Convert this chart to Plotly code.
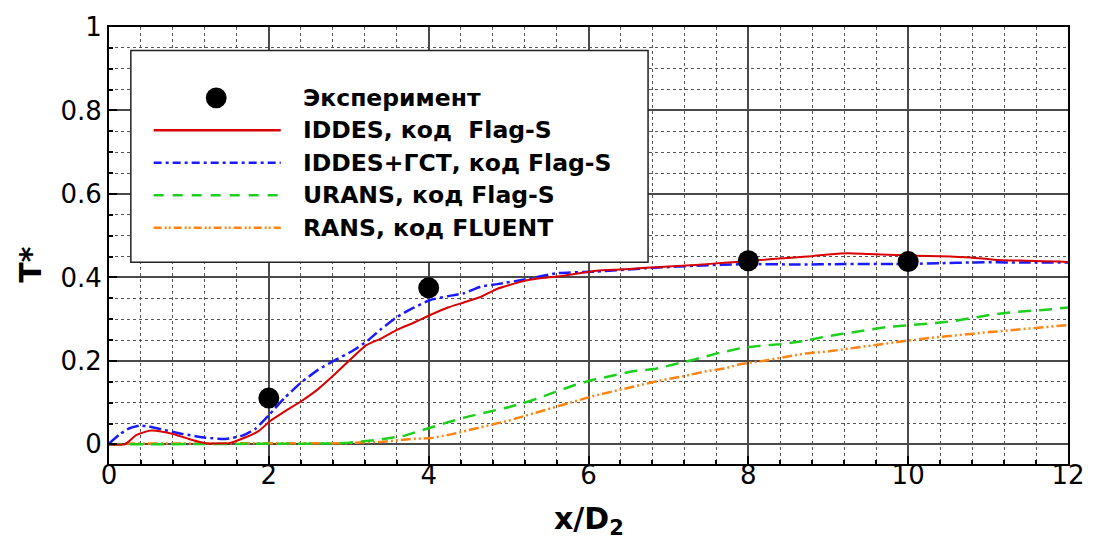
import plotly.graph_objects as go

# Experimental points
x_exp = [2, 4, 8, 10]
t_exp = [0.111, 0.375, 0.440, 0.438]

# IDDES, Flag-S
x_iddes = [0, 0.2, 0.34, 0.45, 0.53, 0.65, 0.8, 1.0, 1.21, 1.5, 1.71, 1.88, 2.01, 2.2, 2.41,
           2.62, 2.78, 2.99, 3.22, 3.41, 3.61, 3.82, 4.02, 4.24, 4.44, 4.65, 4.86, 5.05, 5.23,
           5.45, 5.69, 6.1, 6.4, 6.72, 7.0, 7.34, 7.7, 8.0, 8.3, 8.58, 8.8, 9.0, 9.25, 9.5,
           9.83, 10.1, 10.4, 10.78, 11.1, 11.48, 11.9, 12]
t_iddes = [0, 0, 0.022, 0.03, 0.033, 0.031, 0.025, 0.013, 0.003, 0.003, 0.017, 0.033, 0.055,
           0.079, 0.104, 0.133, 0.16, 0.198, 0.238, 0.254, 0.275, 0.292, 0.31, 0.328, 0.34,
           0.353, 0.373, 0.384, 0.393, 0.399, 0.404, 0.416, 0.419, 0.423, 0.426, 0.43, 0.435,
           0.439, 0.444, 0.448, 0.451, 0.455, 0.458, 0.456, 0.454, 0.452, 0.451, 0.448, 0.442,
           0.44, 0.438, 0.437]

# IDDES + synthetic turbulence generator, Flag-S
x_gst = [0, 0.14, 0.25, 0.39, 0.5, 0.63, 0.92, 1.21, 1.46, 1.67, 1.83, 2.01, 2.2, 2.41, 2.62,
         2.83, 3.03, 3.24, 3.41, 3.61, 3.82, 4.02, 4.24, 4.44, 4.65, 4.86, 5.23, 5.6, 6.1,
         6.72, 7.34, 8.0, 8.6, 9.2, 9.83, 10.4, 10.82, 11.4, 12]
t_gst = [0.002, 0.025, 0.038, 0.045, 0.043, 0.037, 0.025, 0.016, 0.013, 0.021, 0.037, 0.072,
         0.112, 0.149, 0.179, 0.202, 0.222, 0.249, 0.277, 0.306, 0.328, 0.346, 0.355, 0.362,
         0.378, 0.384, 0.396, 0.41, 0.414, 0.422, 0.428, 0.432, 0.431, 0.432, 0.432, 0.434,
         0.436, 0.436, 0.436]

# URANS, Flag-S
x_urans = [0, 2.8, 3.0, 3.2, 3.41, 3.7, 3.99, 4.24, 4.48, 4.77, 5.02, 5.27, 5.54, 5.81, 6.06,
           6.31, 6.55, 6.84, 7.09, 7.34, 7.61, 7.89, 8.14, 8.39, 8.68, 8.93, 9.18, 9.47, 9.73,
           9.98, 10.23, 10.52, 10.77, 11.02, 11.27, 11.57, 11.81, 12]
t_urans = [0.0, 0.002, 0.004, 0.008, 0.012, 0.021, 0.039, 0.053, 0.066, 0.079, 0.09, 0.104,
           0.123, 0.141, 0.155, 0.165, 0.175, 0.181, 0.192, 0.204, 0.218, 0.23, 0.236, 0.24,
           0.247, 0.257, 0.265, 0.273, 0.281, 0.285, 0.289, 0.294, 0.302, 0.31, 0.316, 0.32,
           0.324, 0.328]

# RANS, FLUENT
x_rans = [0.2, 1.0, 2.0, 3.0, 3.2, 3.41, 3.78, 4.03, 4.28, 4.57, 4.82, 5.02, 5.27, 5.56, 5.85,
          6.06, 6.35, 6.64, 6.89, 7.18, 7.47, 7.71, 7.89, 8.18, 8.43, 8.72, 9.01, 9.31, 9.6,
          9.93, 10.27, 10.52, 10.81, 11.02, 11.27, 11.57, 11.82, 12]
t_rans = [0.002, 0.002, 0.002, 0.003, 0.005, 0.006, 0.013, 0.015, 0.024, 0.037, 0.049, 0.058,
          0.072, 0.088, 0.104, 0.116, 0.129, 0.141, 0.153, 0.163, 0.175, 0.182, 0.192, 0.2,
          0.208, 0.218, 0.223, 0.231, 0.239, 0.247, 0.255, 0.259, 0.265, 0.269, 0.273, 0.278,
          0.283, 0.286]

legend_labels = ["Эксперимент", "IDDES, код\u00a0 Flag-S", "IDDES+ГСТ, код Flag-S",
                 "URANS, код Flag-S", "RANS, код FLUENT"]

RED = "#d80000"
BLUE = "#1a1aff"
GREEN = "#1ecf1e"
ORANGE = "#ff8412"
DASH_BLUE = "12px,4px,3px,4px"
DASH_GREEN = "13px,8px"
DASH_ORANGE = "10px,3px,2px,3px,2px,3px"

fig = go.Figure()
fig.add_trace(go.Scatter(x=x_rans, y=t_rans, mode="lines",
                         line=dict(color=ORANGE, width=2.5, dash=DASH_ORANGE)))
fig.add_trace(go.Scatter(x=x_urans, y=t_urans, mode="lines",
                         line=dict(color=GREEN, width=2.5, dash=DASH_GREEN)))
fig.add_trace(go.Scatter(x=x_gst, y=t_gst, mode="lines", line_shape="spline",
                         line=dict(color=BLUE, width=2.5, dash=DASH_BLUE, smoothing=0.5)))
fig.add_trace(go.Scatter(x=x_iddes, y=t_iddes, mode="lines", line_shape="spline",
                         line=dict(color=RED, width=2, smoothing=0.5)))
fig.add_trace(go.Scatter(x=x_exp, y=t_exp, mode="markers",
                         marker=dict(color="black", size=21, symbol="circle")))

# plot-area geometry in pixels
W_FIG, H_FIG = 1097, 544
L, R, T, B = 109, 1075, 20, 464
PW, PH = R - L, B - T


def px(v):
    return (v - L) / PW


def py(v):
    return (B - v) / PH


shapes = []
# legend frame
shapes.append(dict(type="rect", xref="paper", yref="paper", x0=px(131), x1=px(652),
                   y0=py(259), y1=py(44), fillcolor="white",
                   line=dict(color="#222", width=1.5), layer="above"))
rows = [92, 125, 158, 191, 224]
# marker sample
r = 10.5
shapes.append(dict(type="circle", xref="paper", yref="paper", x0=px(217 - r), x1=px(217 + r),
                   y0=py(rows[0] + r), y1=py(rows[0] - r), fillcolor="black",
                   line=dict(color="black", width=0), layer="above"))
samples = [(RED, 2.5, "solid"), (BLUE, 2.5, "8px,4px,3px,4px"), (GREEN, 2.5, "10px,9px"),
           (ORANGE, 2.5, "8px,3px,2px,2px,2px,3px")]
for (col, w, d), yy in zip(samples, rows[1:]):
    shapes.append(dict(type="line", xref="paper", yref="paper", x0=px(154), x1=px(282),
                       y0=py(yy), y1=py(yy), line=dict(color=col, width=w, dash=d),
                       layer="above"))

annotations = []
for lab, yy in zip(legend_labels, rows):
    annotations.append(dict(xref="paper", yref="paper", x=px(302), y=py(yy), text="<b>" + lab + "</b>",
                            showarrow=False, xanchor="left", yanchor="middle",
                            font=dict(family="DejaVu Sans", size=23.5, color="black")))
# axis titles
annotations.append(dict(xref="paper", yref="paper", x=px(30), y=py(262), text="<b>T*</b>",
                        textangle=-90, showarrow=False, xanchor="center", yanchor="middle",
                        font=dict(family="DejaVu Sans", size=30, color="black")))
annotations.append(dict(xref="paper", yref="paper", x=px(592), y=py(521),
                        text="<b>x/D<sub>2</sub></b>", showarrow=False,
                        xanchor="center", yanchor="middle",
                        font=dict(family="DejaVu Sans", size=30, color="black")))

axis_common = dict(showline=True, mirror=True, linecolor="black", linewidth=2,
                   ticks="inside", tickcolor="black", tickwidth=1.5, ticklen=8,
                   showgrid=True, gridcolor="#4a4a4a", gridwidth=1.5, zeroline=False,
                   tickfont=dict(family="DejaVu Sans", size=26, color="black"))

fig.update_layout(
    width=W_FIG, height=H_FIG,
    margin=dict(l=L, r=W_FIG - R, t=T, b=H_FIG - B, pad=0),
    paper_bgcolor="white", plot_bgcolor="white",
    showlegend=False,
    shapes=shapes, annotations=annotations,
    xaxis=dict(range=[0, 12], tickvals=[0, 2, 4, 6, 8, 10, 12], ticklabelstandoff=-13,
               minor=dict(dtick=0.4, tick0=0, showgrid=True, griddash="dot",
                          gridcolor="#555", gridwidth=1, ticks="inside", ticklen=4,
                          tickcolor="black"),
               **axis_common),
    yaxis=dict(range=[-0.047, 1.0], tickvals=[0, 0.2, 0.4, 0.6, 0.8, 1],
               ticktext=["0", "0.2", "0.4", "0.6", "0.8", "1"],
               minor=dict(dtick=0.05, tick0=0, showgrid=True, griddash="dot",
                          gridcolor="#555", gridwidth=1, ticks="inside", ticklen=4,
                          tickcolor="black"),
               **axis_common),
)

fig.write_html("out.html")
